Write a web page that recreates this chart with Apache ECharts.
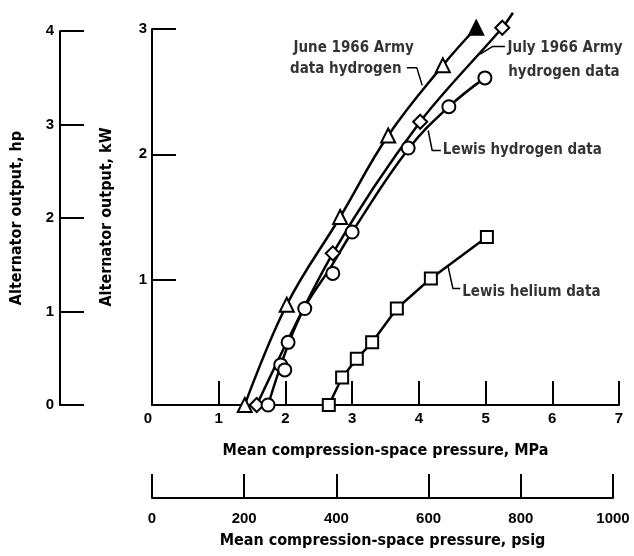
<!DOCTYPE html>
<html>
<head>
<meta charset="utf-8">
<script src="https://cdn.jsdelivr.net/npm/echarts@6/dist/echarts.min.js"></script>
<style>
  html, body { margin: 0; padding: 0; background: #fff; }
  #chart { width: 634px; height: 556px; }
</style>
</head>
<body>
<div id="chart"></div>
<script>
// values (x: MPa, y: kW)
const juneArmy = [[1.39, 0], [2.02, 0.80], [2.82, 1.50], [3.54, 2.15], [4.36, 2.71], [4.86, 3.01]];
const julyArmy = [[1.57, 0], [2.71, 1.21], [4.02, 2.26], [5.25, 3.01]];
const julyArmyTail = [5.41, 3.13];
const lewisH2 = [[1.74, 0], [1.93, 0.32], [1.99, 0.28], [2.04, 0.50], [2.29, 0.77], [2.71, 1.05],
  [3.00, 1.38], [3.84, 2.05], [4.45, 2.38], [4.99, 2.61]];
const lewisH2Curve = [[1.74, 0], [2.04, 0.48], [2.30, 0.79], [2.68, 1.10], [3.00, 1.38],
  [3.84, 2.04], [4.45, 2.38], [4.99, 2.61]];
const lewisHe = [[2.65, 0], [2.85, 0.22], [3.07, 0.37], [3.30, 0.50], [3.67, 0.77], [4.18, 1.01], [5.02, 1.34]];

const condensed = 'DejaVu Sans Condensed, DejaVu Sans';
const labelFont = { color: '#000', fontFamily: 'Liberation Sans', fontWeight: 'bold', fontSize: 15 };
const titleFont = { color: '#000', fontFamily: condensed, fontWeight: 'bold', fontSize: 16 };
const textFont = { color: '#000', fontFamily: condensed, fontWeight: 'bold', fontSize: 15 };
const black = '#000';

const chart = echarts.init(document.getElementById('chart'));

function axisBase() {
  return {
    axisLine: { show: true, lineStyle: { color: black, width: 2 } },
    axisTick: { show: true, inside: true, length: 24, lineStyle: { color: black, width: 2 } },
    splitLine: { show: false },
    nameTextStyle: titleFont
  };
}

function marker(symbol, size) {
  return {
    symbol: symbol,
    symbolSize: size,
    itemStyle: { color: '#fff', borderColor: black, borderWidth: 2, opacity: 1 }
  };
}

function leader(points) {
  return {
    type: 'line',
    data: points,
    symbol: 'none',
    silent: true,
    clip: false,
    lineStyle: { color: black, width: 1.5 },
    z: 1
  };
}

function note(x, y, text) {
  return { value: [x, y], name: text };
}

chart.setOption({
  backgroundColor: '#fff',
  animation: false,
  grid: [
    { left: 152, right: 15, top: 29, bottom: 151 },
    { left: 60, width: 10, top: 31.2, bottom: 151 },
    { left: 152, right: 21, top: 488, bottom: 58 }
  ],
  xAxis: [
    Object.assign(axisBase(), {
      gridIndex: 0, type: 'value', min: 0, max: 7, interval: 1,
      axisLabel: Object.assign({ margin: 6, alignMinLabel: 'right' }, labelFont),
      name: 'Mean compression-space pressure, MPa', nameLocation: 'middle', nameGap: 38
    }),
    { gridIndex: 1, type: 'value', show: false, min: 0, max: 1 },
    Object.assign(axisBase(), {
      gridIndex: 2, type: 'value', min: 0, max: 1000, interval: 200,
      axisLabel: Object.assign({ margin: 13, formatter: (v) => String(v) }, labelFont),
      name: 'Mean compression-space pressure, psig', nameLocation: 'middle', nameGap: 35
    })
  ],
  yAxis: [
    Object.assign(axisBase(), {
      gridIndex: 0, type: 'value', min: 0, max: 3, interval: 1,
      axisLabel: Object.assign({ margin: 5, showMinLabel: false }, labelFont),
      name: 'Alternator output, kW', nameLocation: 'middle', nameGap: 37, nameRotate: 90
    }),
    Object.assign(axisBase(), {
      gridIndex: 1, type: 'value', min: 0, max: 4, interval: 1,
      axisLabel: Object.assign({ margin: 6 }, labelFont),
      name: 'Alternator output, hp', nameLocation: 'middle', nameGap: 35, nameRotate: 90
    }),
    { gridIndex: 2, type: 'value', show: false, min: 0, max: 1 }
  ],
  series: [
    {
      name: 'June 1966 Army',
      type: 'line',
      smooth: 0.4,
      data: juneArmy.map((p, i) => i === juneArmy.length - 1
        ? { value: p, itemStyle: { color: black } }
        : p),
      lineStyle: { color: black, width: 2.5 },
      clip: false,
      z: 3,
      ...marker('triangle', 14)
    },
    {
      name: 'July 1966 Army',
      type: 'line',
      smooth: 0.3,
      data: julyArmy.concat([{ value: julyArmyTail, symbol: 'none' }]),
      lineStyle: { color: black, width: 2.5 },
      clip: false,
      z: 3,
      ...marker('diamond', 14)
    },
    {
      name: 'Lewis hydrogen curve',
      type: 'line',
      smooth: 0.4,
      data: lewisH2Curve,
      symbol: 'none',
      lineStyle: { color: black, width: 2.5 },
      z: 2
    },
    {
      name: 'Lewis hydrogen',
      type: 'scatter',
      data: lewisH2,
      z: 4,
      ...marker('circle', 13)
    },
    {
      name: 'Lewis helium',
      type: 'line',
      data: lewisHe,
      lineStyle: { color: black, width: 2.5 },
      z: 3,
      ...marker('rect', 12)
    },
    leader([[3.82, 2.69], [3.97, 2.69], [4.05, 2.55]]),
    leader([[5.29, 2.86], [5.10, 2.86], [4.92, 2.80]]),
    leader([[4.14, 2.19], [4.20, 2.03], [4.33, 2.03]]),
    leader([[4.44, 1.10], [4.51, 0.93], [4.62, 0.93]]),
    {
      name: 'notes',
      type: 'scatter',
      silent: true,
      symbolSize: 0,
      clip: false,
      data: [
        note(2.12, 2.85, 'June 1966 Army'),
        note(2.07, 2.68, 'data hydrogen'),
        note(5.33, 2.85, 'July 1966 Army'),
        note(5.34, 2.66, 'hydrogen data'),
        note(4.36, 2.03, 'Lewis hydrogen data'),
        note(4.65, 0.90, 'Lewis helium data')
      ],
      label: Object.assign({
        show: true, position: 'right', distance: 0, formatter: '{b}'
      }, textFont)
    }
  ]
});
</script>
</body>
</html>
